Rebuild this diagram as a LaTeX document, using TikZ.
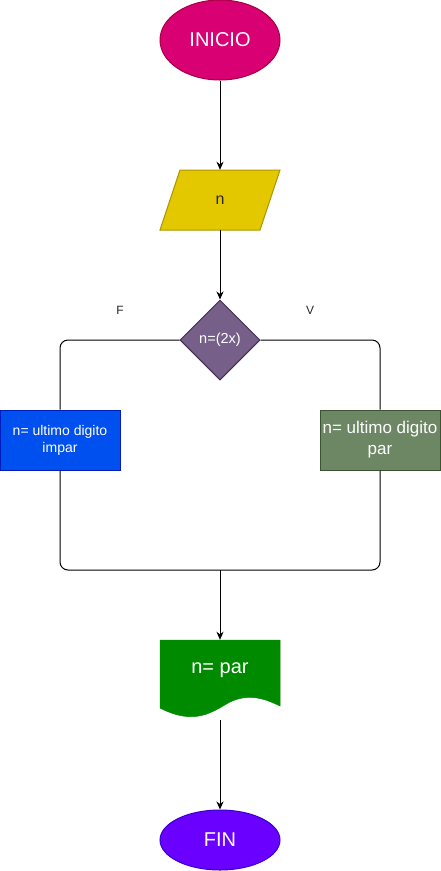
\documentclass[tikz,border=0pt]{standalone}
\usepackage{fontspec}
\setmainfont{Liberation Sans}
\usetikzlibrary{shapes.geometric,arrows.meta}
\definecolor{cIni}{HTML}{D80073}\definecolor{cIniS}{HTML}{A50040}
\definecolor{cIn}{HTML}{E3C800}\definecolor{cInS}{HTML}{B09500}
\definecolor{cDia}{HTML}{76608A}\definecolor{cDiaS}{HTML}{432D57}
\definecolor{cL}{HTML}{0050EF}\definecolor{cLS}{HTML}{001DBC}
\definecolor{cR}{HTML}{6D8764}\definecolor{cRS}{HTML}{3A5431}
\definecolor{cDoc}{HTML}{008A00}\definecolor{cDocS}{HTML}{005700}
\definecolor{cFin}{HTML}{6A00FF}\definecolor{cFinS}{HTML}{3700CC}
\tikzset{
  conn/.style={draw=black, line width=1pt},
  arr/.style={conn, -{Stealth[length=8pt,width=7pt,inset=2.5pt]}},
  term/.style={ellipse, minimum width=120pt, inner sep=0pt, text=white, font=\fontsize{20}{24}\selectfont, line width=1pt},
  procbox/.style={rectangle, minimum width=120pt, minimum height=60pt, inner sep=0pt, line width=1pt, text=white, align=center},
  ghost/.style={rectangle, inner sep=0pt, minimum width=120pt},
  lbl/.style={font=\fontsize{12}{14}\selectfont, text=black!85}
}
\begin{document}
\begin{tikzpicture}[x=1pt,y=-1pt]
\useasboundingbox (0,0) rectangle (441,871);
% INICIO
\node[term, fill=cIni, draw=cIniS, minimum height=80pt] (ini) at (220,40) {INICIO};
% input parallelogram
\node[ghost, minimum height=60pt] (inp) at (220,200) {};
\filldraw[fill=cIn, draw=cInS, line width=1pt] (180,170) -- (280,170) -- (260,230) -- (160,230) -- cycle;
\node[font=\fontsize{16}{19}\selectfont, text=black!85] (inptxt) at (220,200) {n};
% decision
\node[diamond, fill=cDia, draw=cDiaS, line width=1pt, minimum width=80pt, minimum height=80pt, inner sep=0pt, text=white, font=\fontsize{14.5}{17}\selectfont] (dec) at (220,340) {n=(2x)};
% labels
\node[lbl] (lf) at (120,310) {F};
\node[lbl] (lv) at (310,310) {V};
% process boxes
\node[procbox, fill=cL, draw=cLS, font=\fontsize{14}{17}\selectfont] (left) at (60,440) {n= ultimo digito\\impar};
\node[procbox, fill=cR, draw=cRS, font=\fontsize{17}{21}\selectfont] (right) at (380,440) {n= ultimo digito\\par};
% merge point
\coordinate (merge) at (220,570);
% document
\node[ghost, minimum height=80pt] (doc) at (220,680) {};
\filldraw[fill=cDoc, draw=cDoc, line width=0.5pt] (160,640) -- (280,640) -- (280,706)
  .. controls (262,697) and (247,694) .. (230,702)
  .. controls (212,712) and (195,726) .. (160,708) -- cycle;
\node[text=white, font=\fontsize{20}{24}\selectfont] (doctxt) at (220,670) {n= par};
% FIN
\node[term, fill=cFin, draw=cFinS, minimum height=60pt] (fin) at (220,840) {FIN};
% connectors
\draw[arr] (ini.south) -- (inp.north);
\draw[arr] (inp.south) -- (dec.north);
\draw[conn, rounded corners=8pt] (dec.west) -| (left.north);
\draw[conn, rounded corners=8pt] (dec.east) -| (right.north);
\draw[conn, rounded corners=8pt] (left.south) |- (merge) -| (right.south);
\draw[arr] (merge) -- (doc.north);
\draw[arr] (doc.south) -- (fin.north);
\end{tikzpicture}
\end{document}
